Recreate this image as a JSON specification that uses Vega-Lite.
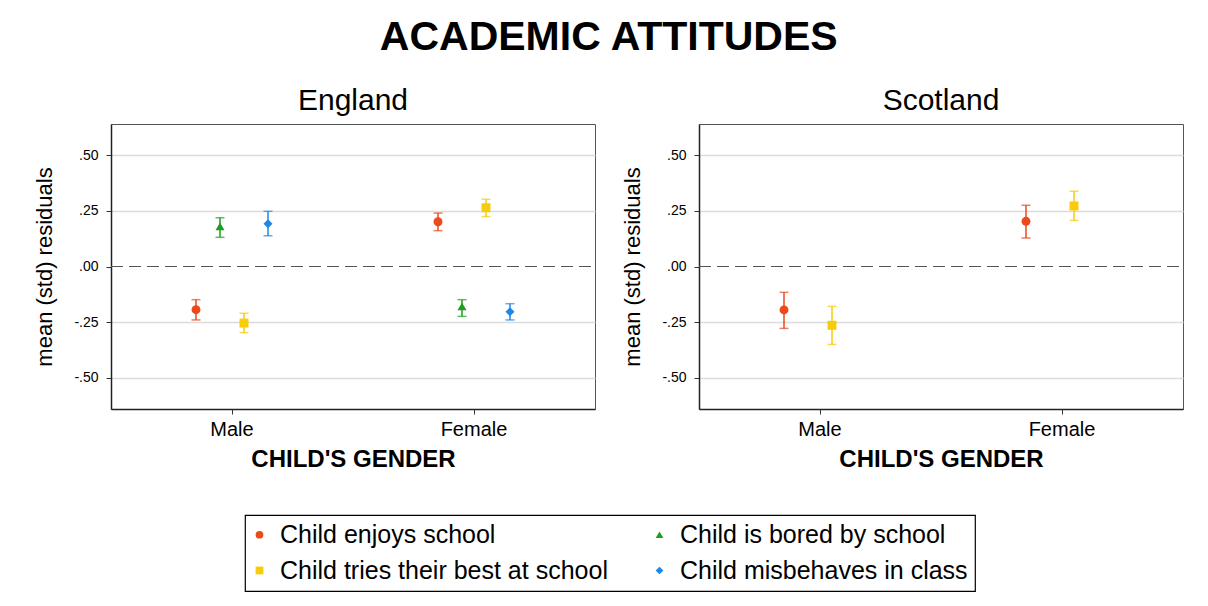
{
  "$schema": "https://vega.github.io/schema/vega-lite/v6.json",
  "autosize": {"type": "none"},
  "padding": {"left": 111, "top": 124, "right": 1097, "bottom": 482},
  "background": "white",
  "title": {"text": "ACADEMIC ATTITUDES", "fontSize": 41, "fontWeight": "bold", "font": "Liberation Sans", "color": "black", "anchor": "middle", "baseline": "alphabetic", "offset": -5, "dx": 0},
  "datasets": {
    "england": [
      {"gender": "Male", "series": "Child enjoys school", "mean": -0.194, "lo": -0.240, "hi": -0.149},
      {"gender": "Male", "series": "Child is bored by school", "mean": 0.180, "lo": 0.131, "hi": 0.219},
      {"gender": "Male", "series": "Child tries their best at school", "mean": -0.254, "lo": -0.297, "hi": -0.210},
      {"gender": "Male", "series": "Child misbehaves in class", "mean": 0.192, "lo": 0.138, "hi": 0.248},
      {"gender": "Female", "series": "Child enjoys school", "mean": 0.201, "lo": 0.161, "hi": 0.240},
      {"gender": "Female", "series": "Child is bored by school", "mean": -0.179, "lo": -0.224, "hi": -0.149},
      {"gender": "Female", "series": "Child tries their best at school", "mean": 0.264, "lo": 0.224, "hi": 0.302},
      {"gender": "Female", "series": "Child misbehaves in class", "mean": -0.203, "lo": -0.240, "hi": -0.167}
    ],
    "scotland": [
      {"gender": "Male", "series": "Child enjoys school", "mean": -0.195, "lo": -0.278, "hi": -0.116},
      {"gender": "Male", "series": "Child tries their best at school", "mean": -0.264, "lo": -0.350, "hi": -0.179},
      {"gender": "Female", "series": "Child enjoys school", "mean": 0.203, "lo": 0.128, "hi": 0.275},
      {"gender": "Female", "series": "Child tries their best at school", "mean": 0.272, "lo": 0.207, "hi": 0.338}
    ]
  },
  "spacing": 104,
  "bounds": "flush",
  "resolve": {"scale": {"color": "shared", "shape": "shared"}, "legend": {"color": "shared", "shape": "shared"}},
  "hconcat": [
    {
      "title": {"text": "England"},
      "width": 484,
      "height": 285,
      "data": {"name": "england"},
      "encoding": {
        "x": {"field": "gender", "type": "nominal", "sort": ["Male", "Female"], "scale": {"type": "band", "domain": ["Male", "Female"], "paddingInner": 0, "paddingOuter": 0}, "axis": {"title": "CHILD'S GENDER"}},
        "xOffset": {"field": "series", "type": "nominal", "scale": {"type": "band", "domain": ["Child enjoys school", "Child is bored by school", "Child tries their best at school", "Child misbehaves in class"], "paddingInner": 0, "paddingOuter": 0, "range": [73, 169]}},
        "color": {"field": "series", "type": "nominal", "scale": {"domain": ["Child enjoys school", "Child tries their best at school", "Child is bored by school", "Child misbehaves in class"], "range": ["#EA4A1C", "#F7CC0A", "#1E9E1E", "#1F88E6"]}, "title": null}
      },
      "layer": [
        {"mark": {"type": "rule", "color": "#555", "strokeDash": [12, 6], "strokeWidth": 1.2}, "encoding": {"y": {"datum": 0, "type": "quantitative", "scale": {"domain": [-0.64, 0.64], "nice": false, "zero": false}, "axis": {"title": "mean (std) residuals", "values": [-0.5, -0.25, 0, 0.25, 0.5], "labelExpr": "replace(replace(format(datum.value, '.2f'), '0.', '.'), '\u2212', '-')", "gridColor": {"condition": {"test": "datum.value === 0", "value": "transparent"}, "value": "#dcdcdc"}}}, "color": {"value": "#555"}, "xOffset": {"value": 0}, "x": {"value": 0}, "x2": {"value": 484}}},
        {"mark": {"type": "rule", "strokeWidth": 1.5}, "encoding": {"y": {"field": "lo", "type": "quantitative"}, "y2": {"field": "hi"}}},
        {"mark": {"type": "tick", "thickness": 1.5, "size": 9}, "encoding": {"y": {"field": "lo", "type": "quantitative"}}},
        {"mark": {"type": "tick", "thickness": 1.5, "size": 9}, "encoding": {"y": {"field": "hi", "type": "quantitative"}}},
        {"mark": {"type": "point", "filled": true, "opacity": 1, "size": 80}, "encoding": {"y": {"field": "mean", "type": "quantitative"},
          "shape": {"field": "series", "type": "nominal", "title": null, "scale": {"domain": ["Child enjoys school", "Child tries their best at school", "Child is bored by school", "Child misbehaves in class"], "range": ["circle", "square", "triangle-up", "diamond"]}}}}
      ]
    },
    {
      "title": {"text": "Scotland"},
      "width": 484,
      "height": 285,
      "data": {"name": "scotland"},
      "encoding": {
        "x": {"field": "gender", "type": "nominal", "sort": ["Male", "Female"], "scale": {"type": "band", "domain": ["Male", "Female"], "paddingInner": 0, "paddingOuter": 0}, "axis": {"title": "CHILD'S GENDER"}},
        "xOffset": {"field": "series", "type": "nominal", "scale": {"type": "band", "domain": ["Child enjoys school", "Child tries their best at school"], "paddingInner": 0, "paddingOuter": 0, "range": [97, 145]}},
        "color": {"field": "series", "type": "nominal", "scale": {"domain": ["Child enjoys school", "Child tries their best at school", "Child is bored by school", "Child misbehaves in class"], "range": ["#EA4A1C", "#F7CC0A", "#1E9E1E", "#1F88E6"]}, "title": null}
      },
      "layer": [
        {"mark": {"type": "rule", "color": "#555", "strokeDash": [12, 6], "strokeWidth": 1.2}, "encoding": {"y": {"datum": 0, "type": "quantitative", "scale": {"domain": [-0.64, 0.64], "nice": false, "zero": false}, "axis": {"title": "mean (std) residuals", "values": [-0.5, -0.25, 0, 0.25, 0.5], "labelExpr": "replace(replace(format(datum.value, '.2f'), '0.', '.'), '\u2212', '-')", "gridColor": {"condition": {"test": "datum.value === 0", "value": "transparent"}, "value": "#dcdcdc"}}}, "color": {"value": "#555"}, "xOffset": {"value": 0}, "x": {"value": 0}, "x2": {"value": 484}}},
        {"mark": {"type": "rule", "strokeWidth": 1.5}, "encoding": {"y": {"field": "lo", "type": "quantitative"}, "y2": {"field": "hi"}}},
        {"mark": {"type": "tick", "thickness": 1.5, "size": 9}, "encoding": {"y": {"field": "lo", "type": "quantitative"}}},
        {"mark": {"type": "tick", "thickness": 1.5, "size": 9}, "encoding": {"y": {"field": "hi", "type": "quantitative"}}},
        {"mark": {"type": "point", "filled": true, "opacity": 1, "size": 80}, "encoding": {"y": {"field": "mean", "type": "quantitative"},
          "shape": {"field": "series", "type": "nominal", "title": null, "scale": {"domain": ["Child enjoys school", "Child tries their best at school", "Child is bored by school", "Child misbehaves in class"], "range": ["circle", "square", "triangle-up", "diamond"]}}}}
      ]
    }
  ],
  "config": {
    "font": "Liberation Sans",
    "view": {"stroke": "#555", "strokeWidth": 1},
    "title": {"fontSize": 30, "fontWeight": "normal", "font": "Liberation Sans", "color": "black", "anchor": "middle", "baseline": "alphabetic", "offset": 8},
    "axis": {"labelFont": "Liberation Sans", "titleFont": "Liberation Sans", "labelColor": "black", "titleColor": "black", "domainColor": "#222", "domainWidth": 1.5, "tickColor": "#333", "tickSize": 5},
    "axisY": {"labelFontSize": 14, "labelPadding": 8, "titleFontSize": 22, "titleFontWeight": "normal", "titlePadding": 17, "grid": true, "gridColor": "#dcdcdc", "gridWidth": 1.5},
    "axisX": {"labelFontSize": 20, "labelAngle": 0, "labelPadding": 5, "titleFontSize": 24, "titleFontWeight": "bold", "titlePadding": 8, "grid": false},
    "legend": {"orient": "none", "legendX": 134, "legendY": 391, "columns": 2, "labelFontSize": 25, "labelFont": "Liberation Sans", "labelColor": "black", "symbolSize": 60, "symbolOpacity": 1, "symbolOffset": -5, "labelOffset": 8, "columnPadding": 44, "rowPadding": 10, "padding": 7, "strokeColor": "black", "strokeWidth": 1.2, "symbolStrokeWidth": 0, "labelLimit": 500}
  }
}
